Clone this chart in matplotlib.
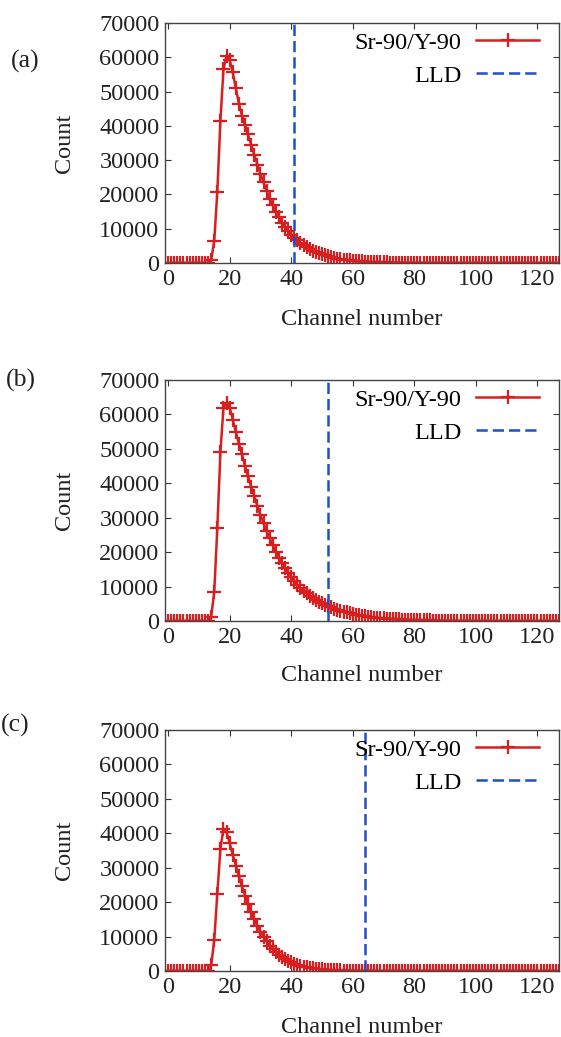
import matplotlib
matplotlib.use("Agg")
import matplotlib.pyplot as plt
import numpy as np

plt.rcParams['font.family'] = ['Liberation Serif', 'DejaVu Serif']

channels = list(range(128))

counts_a = [
    0, 0, 0, 0, 0, 0, 0, 0, 0, 0, 0, 0, 0, 0, 800, 6500, 20800, 41500, 56500, 60500,
    59200, 55600, 51000, 46500, 43000, 40200, 37500, 34500, 31500, 28700, 26000, 23500, 21000, 18800, 16800, 15000,
    13300, 11800, 10500, 9300, 8300, 7400, 6600, 5900, 5200, 4600, 4100, 3600, 3200, 2800,
    2500, 2200, 1950, 1700, 1500, 1300, 1150, 1000, 880, 770, 680, 600, 520, 460, 400, 350,
    310, 270, 235, 205, 180, 160, 140, 120, 105, 90, 80, 70, 60, 52, 45, 40, 35, 30, 26, 22,
    19, 16, 14, 12, 10, 9, 8, 7, 6, 5, 5, 4, 4, 3, 3, 2, 2, 2, 1, 1, 1, 1, 0, 0, 0, 0, 0, 0,
    0, 0, 0, 0, 0, 0, 0, 0, 0, 0, 0, 0, 0, 0,
]

counts_b = [
    0, 0, 0, 0, 0, 0, 0, 0, 0, 0, 0, 0, 0, 0, 1200, 8500, 27000, 49000, 62000, 63300,
    62000, 58500, 55000, 51500, 48500, 45000, 42000, 39000, 36200, 33400, 30800, 28400, 26100, 24000,
    22000, 20100, 18400, 16800, 15300, 14000, 12700, 11500, 10400, 9500, 8800, 8000, 7300, 6700,
    6100, 5600, 5100, 4700, 4400, 4000, 3600, 3300, 3000, 2750, 2500, 2280, 2080, 1880, 1700, 1540,
    1390, 1250, 1120, 1010, 910, 820, 750, 680, 620, 560, 510, 460, 420, 380, 340, 310, 280,
    250, 225, 200, 180, 160, 145, 130, 115, 100, 90, 80, 70, 62, 55, 48, 42, 37, 32, 28, 24,
    21, 18, 16, 14, 12, 10, 9, 8, 7, 6, 5, 5, 4, 4, 3, 3, 2, 2, 2, 1, 1, 1, 1, 0, 0, 0, 0,
]

counts_c = [
    0, 0, 0, 0, 0, 0, 0, 0, 0, 0, 0, 0, 0, 0, 1600, 9000, 22500, 35500, 41300, 40300,
    37200, 33800, 30600, 27500, 24600, 21900, 19400, 17100, 15000, 13100, 11400, 9900, 8600, 7400,
    6400, 5500, 4700, 4000, 3400, 2900, 2500, 2100, 1800, 1500, 1280, 1080, 910, 770, 650, 550,
    460, 390, 330, 280, 235, 200, 170, 145, 120, 100, 85, 72, 60, 50, 42, 35, 29, 24, 20, 17,
    14, 12, 10, 8, 7, 6, 5, 4, 3, 3, 2, 2, 2, 1, 1, 1, 1, 0, 0, 0, 0, 0, 0, 0, 0, 0,
    0, 0, 0, 0, 0, 0, 0, 0, 0, 0, 0, 0, 0, 0, 0, 0, 0, 0, 0, 0, 0, 0, 0, 0, 0, 0, 0, 0, 0, 0, 0, 0,
]

lld_positions = [41, 52, 64]
panel_labels = ["(a)", "(b)", "(c)"]
xticks = [0, 20, 40, 60, 80, 100, 120]
yticks = [0, 10000, 20000, 30000, 40000, 50000, 60000, 70000]

W, H = 561, 1037
fig = plt.figure(figsize=(W / 100, H / 100), dpi=100)

# axes pixel boxes (left, top, right, bottom)
boxes = [(165, 23, 559, 263), (165, 380, 559, 621), (165, 730, 559, 971)]
label_pos = [(25, 61), (21, 380), (15, 725)]
xlabel_top = [309, 665, 1017]

red = '#d81e1e'
blue = '#1f4fc8'
fs = 17.5

for i, (counts, lld) in enumerate(zip([counts_a, counts_b, counts_c], lld_positions)):
    l, t, r, b = boxes[i]
    ax = fig.add_axes([l / W, 1 - b / H, (r - l) / W, (b - t) / H])
    ax.plot(channels, counts, color=red, lw=1.8, marker='+', ms=10, mew=1.6,
            label='Sr-90/Y-90')
    ax.axvline(lld, color=blue, lw=1.8, ls=(0, (4.5, 2.0)), label='LLD')
    ax.set_xlim(-1, 127)
    ax.set_ylim(0, 70000)
    ax.set_xticks(xticks)
    ax.set_yticks(yticks)
    ax.tick_params(direction='in', length=4.5, width=0.8, top=True, right=True,
                   labelsize=fs, colors='#333333', labelcolor='#222222', pad=4)
    for s in ax.spines.values():
        s.set_color('#444444')
        s.set_linewidth(1.0)
    ax.set_ylabel('Count', fontsize=fs, color='#222222')
    ax.yaxis.set_label_coords((75 - l) / (r - l), 0.5)
    ax.set_xlabel('Channel number', fontsize=fs, color='#222222')
    ax.xaxis.set_label_coords(0.5, (b - xlabel_top[i]) / (b - t))
    ax.legend(loc='upper right', frameon=False, fontsize=fs, markerfirst=False,
              handlelength=2.6, handletextpad=0.6, borderaxespad=0.0,
              labelspacing=0.45, bbox_to_anchor=(1 - 10 / (r - l), 1.0 + 1 / (b - t)))
    lx, ly = label_pos[i]
    fig.text(lx / W, 1 - ly / H, panel_labels[i], fontsize=fs + 1, ha='center',
             va='center', color='#222222')

fig.savefig('out.png', dpi=100)
